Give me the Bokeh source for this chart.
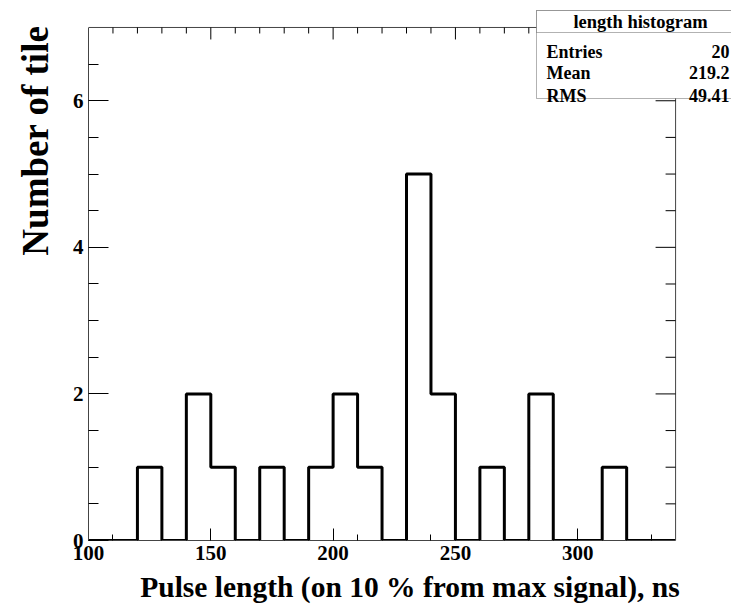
from math import pi
from bokeh.plotting import figure
from bokeh.models import (Range1d, LinearAxis, FixedTicker, Label, Title,
                          BoxAnnotation, ColumnDataSource)
from bokeh.embed import file_html
from bokeh.resources import INLINE

# ---- data ----
bin_edges = [100, 110, 120, 130, 140, 150, 160, 170, 180, 190, 200, 210, 220,
             230, 240, 250, 260, 270, 280, 290, 300, 310, 320, 330, 340]
counts = [0, 0, 1, 0, 2, 1, 0, 1, 0, 1, 2, 1, 0, 5, 2, 0, 1, 0, 2, 0, 0, 1, 0, 0]
y_max = 7
x_major_ticks = [100, 150, 200, 250, 300]
x_minor_ticks = [110, 120, 130, 140, 160, 170, 180, 190, 210, 220, 230, 240,
                 260, 270, 280, 290, 310, 320, 330]
y_major_ticks = [0, 2, 4, 6]
y_minor_ticks = [0.5, 1, 1.5, 2.5, 3, 3.5, 4.5, 5, 5.5, 6.5]
stat_names = ["Entries", "Mean", "RMS"]
stat_values = ["20", "219.2", "49.41"]
stats_title = "length histogram"
x_title = "Pulse length (on 10 % from max signal), ns"
y_title = "Number of tile"

FONT = "Liberation Serif"
AXIS_COLOR = "#444444"

x_lo, x_hi = bin_edges[0], bin_edges[-1]

# frame spans to the top/right canvas edges so that the statistics box
# (which overhangs the histogram frame) is not clipped
p = figure(width=731, height=607, output_backend="svg", toolbar_location=None,
           x_range=Range1d(100, 362.86), y_range=Range1d(0, 7.368),
           min_border_left=87, min_border_right=0, min_border_top=0,
           min_border_bottom=67, x_axis_type=None, y_axis_type=None)
p.outline_line_color = None
p.xgrid.visible = False
p.ygrid.visible = False
p.background_fill_color = "white"
p.border_fill_color = "white"

src = ColumnDataSource(dict(x=bin_edges, y=counts + [counts[-1]]))
p.step("x", "y", source=src, mode="after", line_color="black", line_width=3)

# upper and right frame edges with their inward ticks
p.segment(x0=[x_lo, x_hi], y0=[y_max, 0], x1=[x_hi, x_hi], y1=[y_max, y_max],
          line_color=AXIS_COLOR, line_width=1)
p.ray(x=x_minor_ticks, y=[y_max] * len(x_minor_ticks), length=6,
      length_units="screen", angle=-pi / 2, line_color="black", line_width=1)
p.ray(x=x_major_ticks[1:], y=[y_max] * (len(x_major_ticks) - 1), length=12,
      length_units="screen", angle=-pi / 2, line_color="black", line_width=1)
p.ray(x=[x_hi] * len(y_minor_ticks), y=y_minor_ticks, length=10,
      length_units="screen", angle=pi, line_color="black", line_width=1)
p.ray(x=[x_hi] * (len(y_major_ticks) - 1), y=y_major_ticks[1:], length=20,
      length_units="screen", angle=pi, line_color="black", line_width=1)


def style_axis(ax, major_in, minor_in):
    ax.axis_line_color = AXIS_COLOR
    ax.axis_line_width = 1
    ax.major_tick_in = major_in
    ax.major_tick_out = 0
    ax.minor_tick_in = minor_in
    ax.minor_tick_out = 0
    ax.major_tick_line_color = "black"
    ax.minor_tick_line_color = "black"
    ax.major_label_text_font = FONT
    ax.major_label_text_font_style = "bold"
    ax.major_label_text_font_size = "21px"
    ax.major_label_text_color = "black"
    ax.major_label_standoff = 5
    ax.axis_label_text_font = FONT
    ax.axis_label_text_font_style = "bold"
    ax.axis_label_text_color = "black"


xb = LinearAxis(ticker=FixedTicker(ticks=x_major_ticks, minor_ticks=x_minor_ticks),
                bounds=(x_lo, x_hi))
style_axis(xb, 12, 6)
xb.axis_label = x_title
xb.axis_label_text_font_size = "29.5px"
xb.axis_label_standoff = 8
yl = LinearAxis(ticker=FixedTicker(ticks=y_major_ticks, minor_ticks=y_minor_ticks),
                bounds=(0, y_max))
style_axis(yl, 20, 10)
p.add_layout(xb, "below")
p.add_layout(yl, "left")

# y title, ROOT style: flush with the top end of the axis
p.add_layout(Title(text=y_title, align="right", offset=25, vertical_align="middle",
                   standoff=26, text_font=FONT, text_font_style="bold",
                   text_font_size="37px", text_color="black"), "left")

# statistics box
box_l, box_r, box_t, box_mid, box_b = 536, 745, 10, 32, 98
for bottom in (box_b, box_mid):
    p.add_layout(BoxAnnotation(left=box_l, right=box_r, top=box_t, bottom=bottom,
                               left_units="canvas", right_units="canvas",
                               top_units="canvas", bottom_units="canvas",
                               fill_color="white", fill_alpha=1, line_color="black",
                               line_width=1))
p.add_layout(Label(x=640, y=21, x_units="canvas", y_units="canvas", text=stats_title,
                   text_align="center", text_baseline="middle", text_font=FONT,
                   text_font_style="bold", text_font_size="18.5px", text_color="black"))
for name, val, yb in zip(stat_names, stat_values, [51, 72, 95]):
    p.add_layout(Label(x=546, y=yb, x_units="canvas", y_units="canvas", text=name,
                       text_align="left", text_baseline="alphabetic", text_font=FONT,
                       text_font_style="bold", text_font_size="18px", text_color="black"))
    p.add_layout(Label(x=729, y=yb, x_units="canvas", y_units="canvas", text=val,
                       text_align="right", text_baseline="alphabetic", text_font=FONT,
                       text_font_style="bold", text_font_size="18px", text_color="black"))

open("out.html", "w").write(file_html(p, INLINE))
